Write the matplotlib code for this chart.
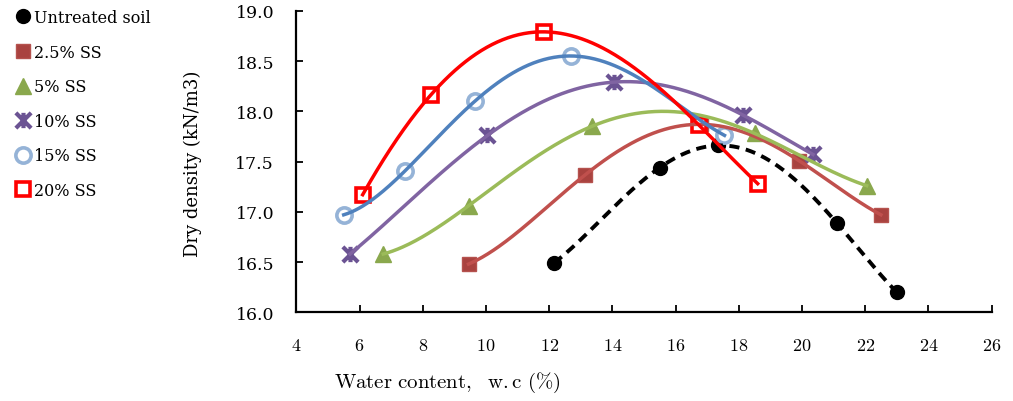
import matplotlib
matplotlib.use('Agg')
import matplotlib.pyplot as plt
from matplotlib.lines import Line2D
from matplotlib.path import Path
import numpy as np

plt.rcParams['font.family'] = ['DejaVu Serif']
plt.rcParams['mathtext.fontset'] = 'cm'

# water content (%) and dry density (kN/m3) for each mix
labels = ['Untreated soil', '2.5% SS', '5% SS', '10% SS', '15% SS', '20% SS']
w_untreated = [12.15, 15.5, 17.35, 21.1, 23.0]
d_untreated = [16.49, 17.44, 17.66, 16.89, 16.20]
w_ss25 = [9.45, 13.15, 16.8, 19.9, 22.5]
d_ss25 = [16.48, 17.37, 17.87, 17.51, 16.97]
w_ss5 = [6.75, 9.45, 13.35, 18.5, 22.05]
d_ss5 = [16.58, 17.06, 17.85, 17.78, 17.26]
w_ss10 = [5.7, 10.05, 14.05, 18.15, 20.35]
d_ss10 = [16.58, 17.76, 18.29, 17.96, 17.57]
w_ss15 = [5.5, 7.45, 9.65, 12.7, 17.55]
d_ss15 = [16.97, 17.41, 18.10, 18.55, 17.76]
w_ss20 = [6.1, 8.25, 11.85, 16.75, 18.6]
d_ss20 = [17.17, 18.16, 18.79, 17.86, 17.28]

xs = [w_untreated, w_ss25, w_ss5, w_ss10, w_ss15, w_ss20]
ys = [d_untreated, d_ss25, d_ss5, d_ss10, d_ss15, d_ss20]

# excel style star: X plus a vertical bar
star = Path([(-1, -1), (1, 1), (-1, 1), (1, -1), (0, -1), (0, 1)],
            [Path.MOVETO, Path.LINETO] * 3)

line_colors = ['black', '#C0504D', '#9BBB59', '#8064A2', '#4F81BD', '#FF0000']
mk_style = [
    dict(marker='o', ms=10, mfc='black', mec='black', mew=1),
    dict(marker='s', ms=10, mfc='#A9423F', mec='#B5524E', mew=1),
    dict(marker='^', ms=11, mfc='#8AA84D', mec='#8AA84D', mew=1),
    dict(marker=star, ms=11, mfc='#6B5393', mec='#6B5393', mew=3),
    dict(marker='o', ms=11, mfc='white', mec='#95B3D7', mew=2.6),
    dict(marker='s', ms=10, mfc='white', mec='#FF0000', mew=2.6),
]

fig = plt.figure(figsize=(10.13, 4.02), dpi=100)
ax = fig.add_axes([0.2925, 0.2206, 0.6863, 0.7502])

for x, y, st in zip(xs, ys, mk_style):
    ax.plot(x, y, linestyle='none', zorder=2, **st)

# polynomial trendlines (order 4) over each data range
for i, (x, y, c) in enumerate(zip(xs, ys, line_colors)):
    coef = np.polyfit(x, y, 4)
    xx = np.linspace(min(x), max(x), 300)
    if i == 0:
        ax.plot(xx, np.polyval(coef, xx), color=c, lw=2.8,
                linestyle=(0, (2.6, 1.7)), dash_capstyle='butt', zorder=3)
    else:
        ax.plot(xx, np.polyval(coef, xx), color=c, lw=2.5, zorder=3)

ax.set_xlim(4, 26)
ax.set_ylim(16, 19)
ax.set_xticks(np.arange(4, 27, 2))
ax.set_yticks(np.arange(16, 19.01, 0.5))
ax.set_xticklabels(['$%d$' % v for v in np.arange(4, 27, 2)])
ax.set_yticklabels(['%.1f' % v for v in np.arange(16, 19.01, 0.5)])
for s in ['top', 'right']:
    ax.spines[s].set_visible(False)
for s in ['left', 'bottom']:
    ax.spines[s].set_linewidth(1.6)
ax.tick_params(direction='in', length=5, width=1.3, labelsize=12.5, pad=16)
ax.tick_params(axis='x', labelsize=13, pad=17)

fig.text(193 / 1013, 1 - 164 / 402, 'Dry density (kN/m3)', rotation=90,
         ha='center', va='center', fontsize=13)
fig.text(447 / 1013, 1 - 383 / 402, r'$\mathrm{Water\ content,\ \ w.c\ (\%)}$',
         ha='center', va='center', fontsize=15)

handles = [Line2D([], [], linestyle='none', **st) for st in mk_style]
fig.legend(handles, labels, loc='upper left', bbox_to_anchor=(0.008, 0.995),
           frameon=False, fontsize=11.5, labelspacing=1.1, handlelength=0.9,
           handletextpad=0.25, borderaxespad=0.2, borderpad=0.3)

fig.savefig('out.png', dpi=100)
